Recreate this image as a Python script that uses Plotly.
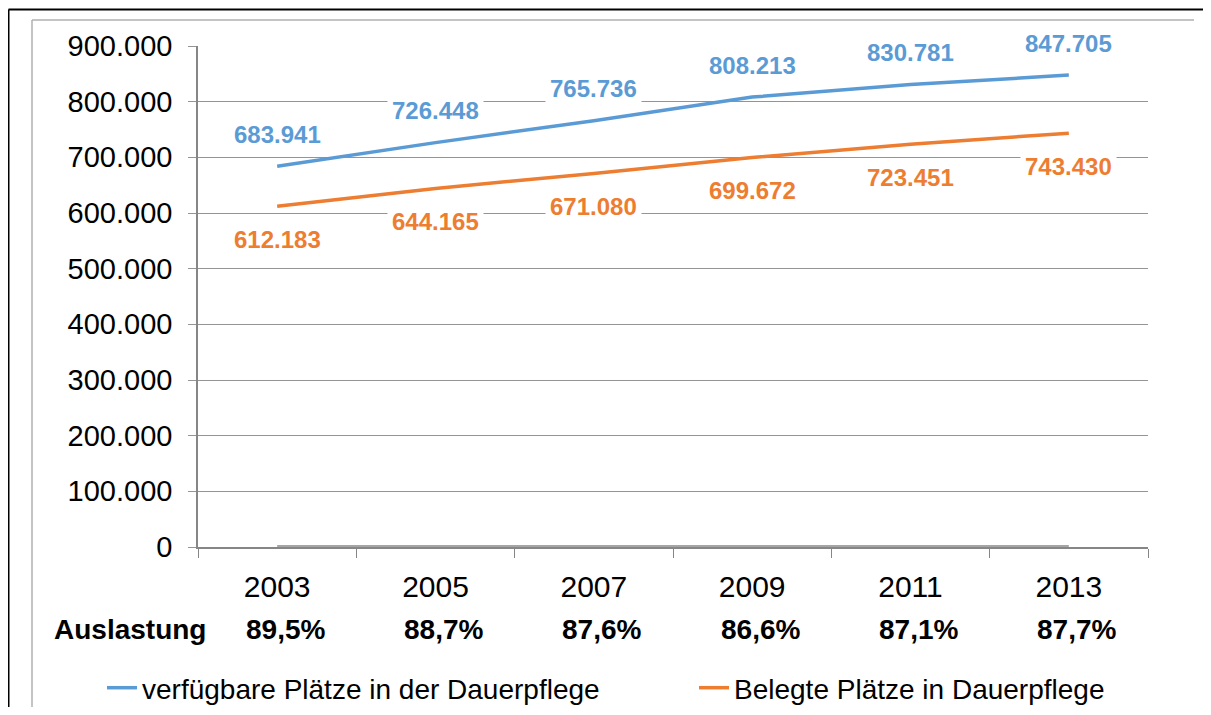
import plotly.graph_objects as go

# ---- data ----
years = ["2003", "2005", "2007", "2009", "2011", "2013"]
verfuegbar = [683941, 726448, 765736, 808213, 830781, 847705]
belegt = [612183, 644165, 671080, 699672, 723451, 743430]
auslastung = [89.5, 88.7, 87.6, 86.6, 87.1, 87.7]  # percent

name_verf = "verfügbare Plätze in der Dauerpflege"
name_bel = "Belegte Plätze in Dauerpflege"

BLUE = "#5B9BD5"
ORANGE = "#ED7D31"
GRAY = "#A5A5A5"
FONT = "Arial, Liberation Sans, sans-serif"

OFF = 8  # page body margin
W, H = 1211 - OFF, 715 - 2 * OFF
# plot area in figure pixels (window pixels minus OFF)
L, R, T, B = 198 - OFF, 1148 - OFF, 46 - OFF, 547 - OFF


def px(xw):
    """window x pixel -> paper x"""
    return (xw - OFF - L) / (R - L)


def py(yw):
    """window y pixel -> paper y"""
    return (B - (yw - OFF)) / (B - T)


def de_int(v):
    return f"{v:,}".replace(",", ".")


def de_pct(v):
    return f"{v:.1f}%".replace(".", ",")


idx = list(range(len(years)))

fig = go.Figure()
fig.add_trace(go.Scatter(x=years, y=verfuegbar, mode="lines", name=name_verf,
                         legend="legend",
                         line=dict(color=BLUE, width=3.5)))
fig.add_trace(go.Scatter(x=years, y=belegt, mode="lines", name=name_bel,
                         legend="legend2",
                         line=dict(color=ORANGE, width=3.5)))
fig.add_trace(go.Scatter(x=years, y=[a / 100 for a in auslastung], mode="lines",
                         name="Auslastung", showlegend=False,
                         line=dict(color=GRAY, width=4)))

annotations = []
for i, v in zip(idx, verfuegbar):
    annotations.append(dict(x=i, y=v, xref="x", yref="y", yshift=32,
                            text=f"<b>{de_int(v)}</b>", showarrow=False,
                            font=dict(size=24, color=BLUE, family=FONT),
                            bgcolor="white", borderpad=4))
for i, v in zip(idx, belegt):
    annotations.append(dict(x=i, y=v, xref="x", yref="y", yshift=-33,
                            text=f"<b>{de_int(v)}</b>", showarrow=False,
                            font=dict(size=24, color=ORANGE, family=FONT),
                            bgcolor="white", borderpad=4))
for i, a in zip(idx, auslastung):
    annotations.append(dict(x=i, y=py(629.5), xref="x", yref="paper", xshift=8,
                            text=f"<b>{de_pct(a)}</b>", showarrow=False,
                            xanchor="center", yanchor="middle",
                            font=dict(size=28, color="black", family=FONT)))
annotations.append(dict(x=px(130), y=py(629.5), xref="paper", yref="paper",
                        text="<b>Auslastung</b>", showarrow=False,
                        xanchor="center", yanchor="middle",
                        font=dict(size=28, color="black", family=FONT)))

shapes = [
    # outer black frame (top and left visible)
    dict(type="line", xref="paper", yref="paper", x0=px(8.5), x1=px(1211), y0=py(9.5), y1=py(9.5),
         line=dict(color="black", width=2)),
    dict(type="line", xref="paper", yref="paper", x0=px(8.5), x1=px(8.5), y0=py(9.5), y1=py(715),
         line=dict(color="black", width=2)),
    # inner gray frame
    dict(type="line", xref="paper", yref="paper", x0=px(32), x1=px(1194), y0=py(20), y1=py(20),
         line=dict(color="#B0B0B0", width=1.5)),
    dict(type="line", xref="paper", yref="paper", x0=px(32), x1=px(32), y0=py(20), y1=py(710),
         line=dict(color="#B0B0B0", width=1.5)),
]

legend_common = dict(orientation="h", xanchor="left", yanchor="middle",
                     font=dict(size=28, family=FONT, color="black"),
                     itemwidth=30, bgcolor="rgba(0,0,0,0)")

fig.update_layout(
    width=W, height=H,
    margin=dict(l=L, r=W - R, t=T, b=H - B, pad=0, autoexpand=False),
    plot_bgcolor="white", paper_bgcolor="white",
    separators=",.",
    font=dict(family=FONT, color="black", size=28),
    annotations=annotations,
    shapes=shapes,
    showlegend=True,
    legend=dict(x=px(102), y=py(688), **legend_common),
    legend2=dict(x=px(694), y=py(688), **legend_common),
    xaxis=dict(type="category", categoryorder="array", categoryarray=years,
               range=[-0.5, 5.5], showline=True, linecolor="#868686", linewidth=1.5,
               ticks="outside", tickson="boundaries", ticklen=9, tickcolor="#868686",
               tickwidth=1.3, showgrid=False, zeroline=False, ticklabelstandoff=12,
               tickfont=dict(size=30, family=FONT, color="black"),
               layer="below traces"),
    yaxis=dict(range=[0, 900000], dtick=100000, tickformat=",d",
               showgrid=True, gridcolor="#949494", gridwidth=1.3,
               showline=True, linecolor="#868686", linewidth=1.5,
               ticks="outside", ticklen=8, tickcolor="#949494", tickwidth=1.3,
               zeroline=False, ticklabelstandoff=10,
               tickfont=dict(size=29, family=FONT, color="black"),
               layer="below traces"),
)

fig.write_html("out.html")
